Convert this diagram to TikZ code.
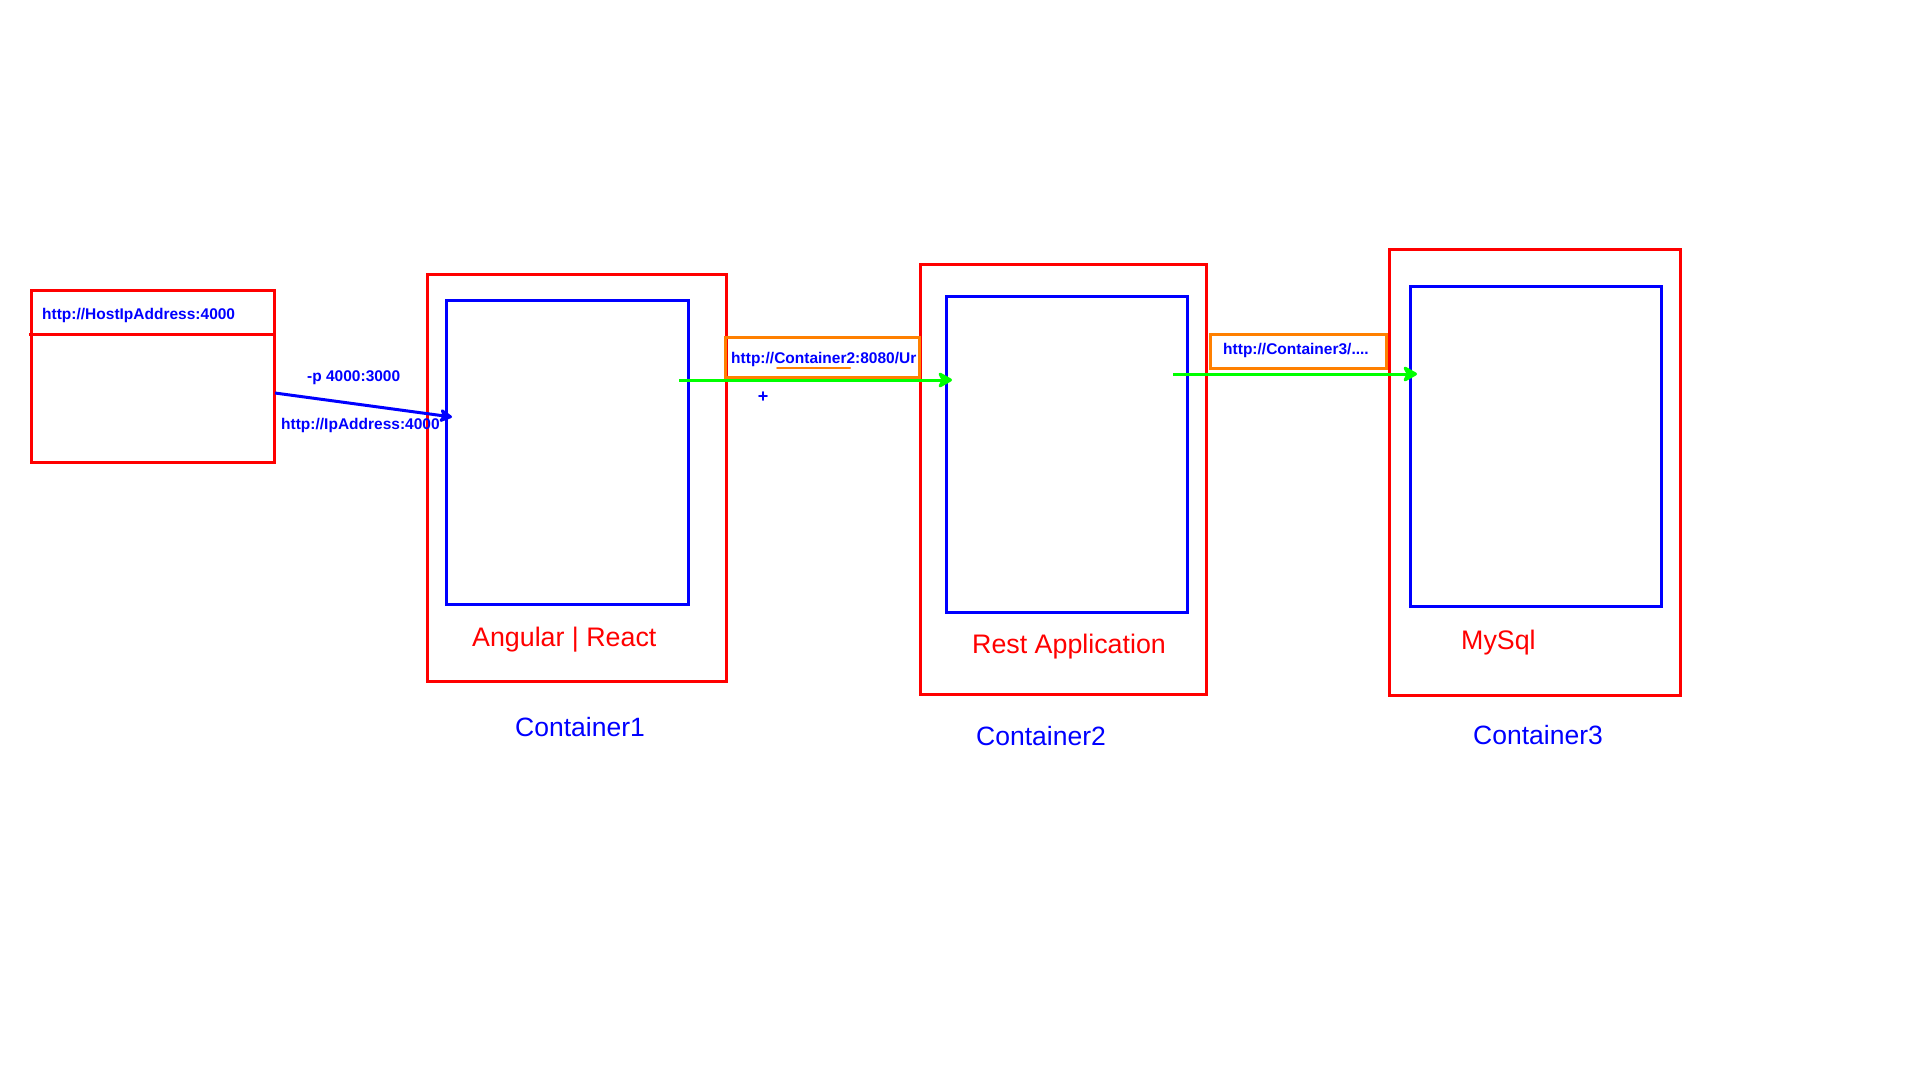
\documentclass[tikz,border=0pt]{standalone}
\usepackage{fontspec}
\setmainfont{Liberation Sans}
\usetikzlibrary{arrows.meta}
\definecolor{myred}{RGB}{255,0,0}
\definecolor{myblue}{RGB}{0,0,255}
\definecolor{mygreen}{RGB}{0,255,0}
\definecolor{myorange}{RGB}{255,128,0}
\tikzset{
  boxbase/.style={draw, line width=3pt, inner sep=0pt, outer sep=0pt, anchor=north west},
  redbox/.style={boxbase, draw=myred},
  bluebox/.style={boxbase, draw=myblue},
  orangebox/.style={boxbase, draw=myorange, line width=3pt},
  smalltxt/.style={text=myblue, font=\fontsize{15.5}{18}\selectfont\bfseries, inner sep=0pt, anchor=base west},
  bigred/.style={text=myred, font=\fontsize{26.8}{30}\selectfont, inner sep=0pt, anchor=base west},
  bigblue/.style={text=myblue, font=\fontsize{26.5}{30}\selectfont, inner sep=0pt, anchor=base west},
  greenarrow/.style={draw=mygreen, line width=3pt, -{Stealth[length=17pt,width=19pt,inset=5pt,round]}},
  bluearrow/.style={draw=myblue, line width=3pt, -{Stealth[length=15pt,width=16pt,inset=4pt,round]}},
}
\begin{document}
\begin{tikzpicture}[x=1pt,y=-1pt]
\useasboundingbox (0,0) rectangle (1920,1080);
% host box
\node[redbox, minimum width=243pt, minimum height=172pt] (host) at (31,290) {};
\coordinate (hd1) at (29,334);
\coordinate (hd2) at (276,334);
\draw[draw=myred, line width=3pt] (hd1) -- (hd2);
\node[smalltxt] (hosttxt) at (42,319) {http://HostIpAddress:4000};
% container 1
\node[redbox, minimum width=299pt, minimum height=407pt] (c1) at (427,274) {};
\node[bluebox, minimum width=242pt, minimum height=304pt] (c1in) at (446,300) {};
\node[bigred] (c1lbl) at (472,646) {Angular | React};
\node[bigblue] (c1name) at (515,736) {Container1};
% container 2
\node[redbox, minimum width=286pt, minimum height=430pt] (c2) at (920,264) {};
\node[bluebox, minimum width=241pt, minimum height=316pt] (c2in) at (946,296) {};
\node[bigred] (c2lbl) at (972,653) {Rest Application};
\node[bigblue] (c2name) at (976,745) {Container2};
% container 3
\node[redbox, minimum width=291pt, minimum height=446pt] (c3) at (1389,249) {};
\node[bluebox, minimum width=251pt, minimum height=320pt] (c3in) at (1410,286) {};
\node[bigred] (c3lbl) at (1461,649) {MySql};
\node[bigblue] (c3name) at (1473,744) {Container3};
% host -> container1 arrow
\coordinate (a1s) at (275,393);
\coordinate (a1e) at (452,417);
\draw[bluearrow] (a1s) -- (a1e);
\node[smalltxt] (ptxt) at (307,381) {-p 4000:3000};
\node[smalltxt] (iptxt) at (281,429) {http://IpAddress:4000};
% container1 -> container2
\node[orangebox, minimum width=194pt, minimum height=40pt] (o1) at (725,337) {};
\node[smalltxt] (o1txt) at (731,363) {http://Container2:8080/Ur};
\coordinate (u1) at (777,368);
\coordinate (u2) at (850,368);
\draw[draw=myorange, line width=2pt, line cap=round] (u1) -- (u2);
\coordinate (g1s) at (679,380);
\coordinate (g1e) at (952,380);
\draw[greenarrow] (g1s) -- (g1e);
\node[smalltxt, font=\fontsize{18}{20}\selectfont\bfseries, anchor=center] (plus) at (763,397) {+};
% container2 -> container3
\node[orangebox, minimum width=176pt, minimum height=34pt] (o2) at (1210,334) {};
\node[smalltxt] (o2txt) at (1223,354) {http://Container3/....};
\coordinate (g2s) at (1173,374);
\coordinate (g2e) at (1417,374);
\draw[greenarrow] (g2s) -- (g2e);
\end{tikzpicture}
\end{document}
